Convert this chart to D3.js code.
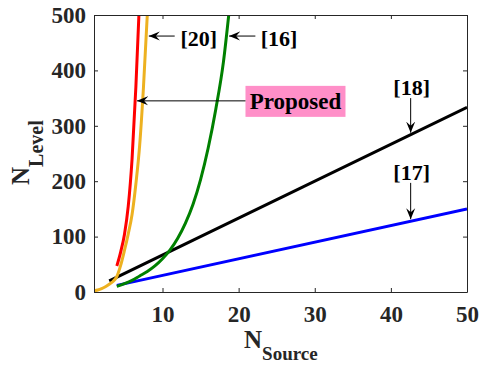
<!DOCTYPE html>
<html>
<head>
<meta charset="utf-8">
<script src="https://cdn.jsdelivr.net/npm/d3@7"></script>
<style>
  body { margin: 0; background: #fff; }
  svg { display: block; }
  text { font-family: "Liberation Serif", "Times New Roman", serif; font-weight: bold; }
</style>
</head>
<body>
<svg id="chart" width="488" height="371"></svg>
<script>
// Axis ticks
const xTicks = [10, 20, 30, 40, 50];
const yTicks = [0, 100, 200, 300, 400, 500];

// Number of levels against number of sources, per method
const redX = [4.0, 4.5, 5.0, 5.5, 6.0, 6.5, 6.9];
const redY = [47, 72, 104, 155, 240, 370, 500];

const orangeX = [1.0, 1.5, 2.0, 2.5, 3.0, 3.5, 4.0, 4.5, 5.0, 5.5, 6.0, 6.5, 7.0, 7.5, 8.0];
const orangeY = [2, 3.5, 6, 9.5, 14, 19, 28, 48, 75, 105, 140, 195, 265, 370, 500];

const greenX = [4, 5, 6, 7, 8, 9, 10, 11, 12, 13, 14, 15, 16, 17, 18, 18.7];
const greenY = [10, 15, 21, 29, 37, 47, 60, 76, 97, 124, 158, 203, 260, 330, 415, 500];

const blackX = [3, 50];
const blackY = [20, 333.3];

const blueX = [4, 50];
const blueY = [12, 150];

const W = 488, H = 371;
const m = { left: 94, right: 467, top: 15, bottom: 292 };

const svg = d3.select("#chart");
const x = d3.scaleLinear().domain([1, 50]).range([m.left, m.right]);
const y = d3.scaleLinear().domain([0, 500]).range([m.bottom, m.top]);

const defs = svg.append("defs");
defs.append("clipPath").attr("id", "plotClip")
  .append("rect")
  .attr("x", m.left).attr("y", m.top)
  .attr("width", m.right - m.left).attr("height", m.bottom - m.top);

defs.append("marker")
  .attr("id", "head")
  .attr("markerUnits", "userSpaceOnUse")
  .attr("viewBox", "-11 -5 12 10")
  .attr("refX", 0).attr("refY", 0)
  .attr("markerWidth", 12).attr("markerHeight", 10)
  .attr("orient", "auto")
  .append("path")
  .attr("d", "M0,0 L-11,-4.5 L-7,0 L-11,4.5 Z")
  .attr("fill", "#000");

// Series lines
const series = [
  { xs: blueX, ys: blueY, color: "#0000ff" },
  { xs: blackX, ys: blackY, color: "#000000" },
  { xs: greenX, ys: greenY, color: "#008000" },
  { xs: orangeX, ys: orangeY, color: "#edb120" },
  { xs: redX, ys: redY, color: "#ff0000" }
];

const line = d3.line()
  .x(d => x(d[0]))
  .y(d => y(d[1]))
  .curve(d3.curveMonotoneX);

const plot = svg.append("g").attr("clip-path", "url(#plotClip)");
series.forEach(s => {
  plot.append("path")
    .datum(s.xs.map((v, i) => [v, s.ys[i]]))
    .attr("d", line)
    .attr("fill", "none")
    .attr("stroke", s.color)
    .attr("stroke-width", 3);
});

// Axes (box with mirrored inward ticks)
const axisColor = "#262626";
const tickLen = 4;
const gx = svg.append("g").attr("transform", `translate(0,${m.bottom})`)
  .call(d3.axisBottom(x).tickValues(xTicks).tickSizeInner(-tickLen).tickSizeOuter(0).tickPadding(14));
const gy = svg.append("g").attr("transform", `translate(${m.left},0)`)
  .call(d3.axisLeft(y).tickValues(yTicks).tickSizeInner(-tickLen).tickSizeOuter(0).tickPadding(8));
const gxTop = svg.append("g").attr("transform", `translate(0,${m.top})`)
  .call(d3.axisTop(x).tickValues(xTicks).tickSizeInner(-tickLen).tickSizeOuter(0).tickFormat(""));
const gyRight = svg.append("g").attr("transform", `translate(${m.right},0)`)
  .call(d3.axisRight(y).tickValues(yTicks).tickSizeInner(-tickLen).tickSizeOuter(0).tickFormat(""));

[gx, gy, gxTop, gyRight].forEach(g => {
  g.selectAll("path").attr("stroke", axisColor).attr("stroke-width", 1);
  g.selectAll("line").attr("stroke", axisColor).attr("stroke-width", 1);
  g.selectAll("text")
    .attr("font-family", "Liberation Serif, Times New Roman, serif")
    .attr("font-weight", "bold")
    .attr("font-size", 23)
    .attr("fill", axisColor);
});

// Axis titles
const xt = svg.append("text").attr("x", 244).attr("y", 348).attr("font-size", 25).attr("fill", axisColor);
xt.append("tspan").text("N");
xt.append("tspan").attr("dy", 12).attr("font-size", 19).text("Source");

const yt = svg.append("text")
  .attr("transform", "translate(29,185) rotate(-90)")
  .attr("font-size", 25).attr("fill", axisColor);
yt.append("tspan").text("N");
yt.append("tspan").attr("dy", 14).attr("font-size", 20).text("Level");

// Annotations
const ann = svg.append("g");
function arrow(x1, y1, x2, y2) {
  ann.append("line")
    .attr("x1", x1).attr("y1", y1).attr("x2", x2).attr("y2", y2)
    .attr("stroke", "#000").attr("stroke-width", 1)
    .attr("marker-end", "url(#head)");
}
function label(txt, px, py, anchor) {
  return ann.append("text")
    .attr("x", px).attr("y", py)
    .attr("text-anchor", anchor || "start")
    .attr("font-size", 22)
    .attr("fill", "#000")
    .text(txt);
}

// [20] → orange curve
arrow(x(11.6), y(462), x(8.2), y(462));
label("[20]", x(12.35), y(444));

// [16] → green curve
arrow(x(22.2), y(462), x(18.75), y(462));
label("[16]", x(22.9), y(444));

// Proposed → orange curve
const pY = y(345);
ann.append("rect")
  .attr("x", x(20.9)).attr("y", pY - 15)
  .attr("width", 100).attr("height", 31)
  .attr("fill", "#ff8fc8");
arrow(x(20.9), pY, x(6.65), pY);
label("Proposed", x(20.9) + 50, pY + 8, "middle").attr("font-size", 23);

// [18] → black line
const a18 = 42.6;
label("[18]", x(a18) + 1, y(356), "middle");
arrow(x(a18), y(350), x(a18), y(a18 * blackY[1] / blackX[1]) - 2);

// [17] → blue line
label("[17]", x(a18) + 1, y(202), "middle");
arrow(x(a18), y(197), x(a18), y(a18 * blueY[1] / blueX[1]) - 2);
</script>
</body>
</html>
